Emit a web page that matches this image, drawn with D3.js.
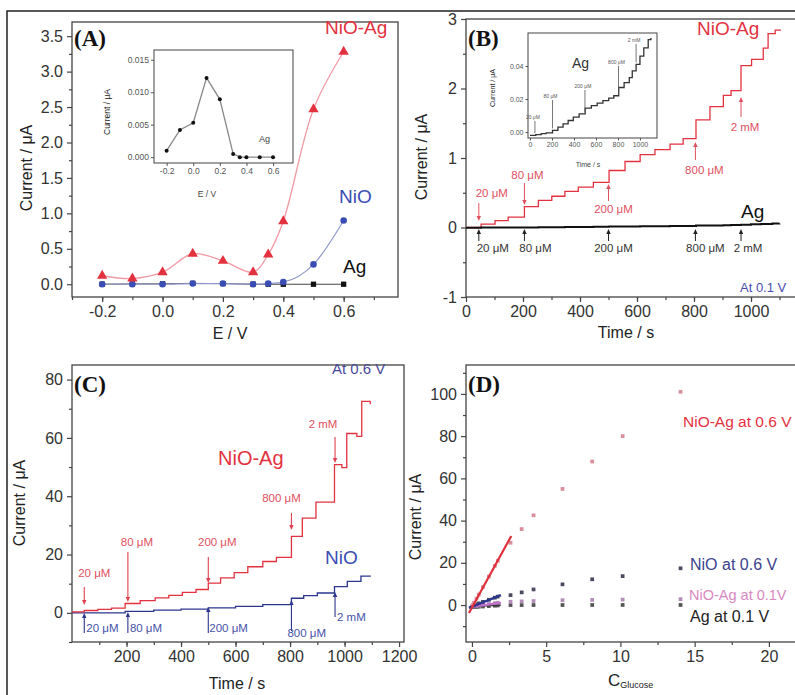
<!DOCTYPE html>
<html>
<head>
<meta charset="utf-8">
<script src="https://cdn.jsdelivr.net/npm/d3@7"></script>
<style>
  body { margin: 0; background: #fff; }
  svg { display: block; font-family: "Liberation Sans", Arial, sans-serif; }
</style>
</head>
<body>
<svg id="fig" width="795" height="695"></svg>
<script>
// (A) current vs potential
const aE = [-0.2, -0.1, 0.0, 0.1, 0.2, 0.3, 0.35, 0.4, 0.5, 0.6];
const aNiOAg = [0.12, 0.08, 0.17, 0.43, 0.33, 0.17, 0.42, 0.89, 2.47, 3.28];
const aNiO = [0.0, 0.0, 0.0, 0.01, 0.01, 0.0, 0.01, 0.03, 0.28, 0.90];
const aAg = [0.001, 0.0042, 0.0053, 0.0122, 0.0089, 0.0005, 0.0, 0.0, 0.0, 0.0];

// glucose additions (shared by B and C)
const addTimes = [45, 205, 500, 805, 965];
const addLabels = ["20 μM", "80 μM", "200 μM", "800 μM", "2 mM"];

// (B) amperometry at 0.1 V
const bTime = [0, 53, 102, 148, 205, 254, 301, 347, 394, 447, 502, 558, 611, 663, 716, 762, 807, 856, 903, 930, 965, 1002, 1043, 1060, 1085, 1105];
const bNiOAg = [0.0, 0.05, 0.10, 0.15, 0.30, 0.39, 0.45, 0.52, 0.58, 0.65, 0.82, 0.95, 1.05, 1.12, 1.20, 1.28, 1.55, 1.74, 1.90, 1.97, 2.33, 2.42, 2.58, 2.79, 2.84, 2.84];
const agTime = [0, 53, 102, 148, 205, 254, 301, 347, 394, 447, 502, 558, 611, 663, 716, 762, 807, 856, 903, 930, 965, 1000, 1035, 1075, 1100];
const agCur = [-0.002, -0.0015, -0.001, -0.0005, 0.001, 0.003, 0.005, 0.007, 0.009, 0.011, 0.0145, 0.016, 0.0175, 0.019, 0.0205, 0.022, 0.027, 0.030, 0.033, 0.037, 0.041, 0.046, 0.051, 0.056, 0.057];

// (C) amperometry at 0.6 V
const cTime = [0, 45, 95, 145, 195, 250, 305, 355, 405, 455, 500, 545, 595, 645, 700, 750, 805, 845, 895, 963, 990, 1008, 1045, 1063, 1094];
const cNiOAg = [0.3, 0.8, 1.2, 1.6, 3.2, 4.2, 5.1, 6.0, 7.0, 8.0, 10.2, 12.0, 13.8, 15.8, 17.6, 19.0, 26.2, 32.5, 38.0, 50.8, 49.8, 61.5, 60.5, 72.5, 71.5];
const cNiOTime = [0, 195, 300, 400, 500, 600, 700, 805, 850, 900, 963, 1010, 1060, 1094];
const cNiO = [0.0, 0.5, 0.9, 1.3, 1.7, 2.2, 2.8, 5.0, 5.9, 6.8, 9.0, 10.8, 12.6, 12.4];

// (D) calibration
const dConc = [0.02, 0.06, 0.14, 0.30, 0.46, 0.74, 1.14, 1.54, 1.74, 2.6, 3.35, 4.15, 6.1, 8.1, 10.15, 14.05];
const dNiOAg06 = [-0.5, 0.0, 1.0, 3.0, 5.0, 8.5, 13.5, 18.5, 21.0, 29.5, 36.0, 42.5, 55.0, 68.0, 80.0, 101.0];
const dNiO06 = [-0.8, -0.6, -0.3, 0.3, 0.8, 1.5, 2.5, 3.5, 4.0, 4.7, 6.0, 7.4, 9.8, 12.2, 13.7, 17.4];
const dNiOAg01 = [-0.9, -0.8, -0.6, -0.4, -0.2, 0.1, 0.5, 0.9, 1.1, 1.55, 1.74, 1.90, 2.3, 2.45, 2.6, 2.8];
const dAg01 = [-1.0, -1.0, -0.9, -0.9, -0.8, -0.7, -0.5, -0.3, -0.2, 0.0, 0.0, 0.01, 0.02, 0.03, 0.04, 0.05];
const fitSlope = [12.8, 2.8, 0.95, 0.4];
const fitIntercept = [-1.2, -0.8, -0.8, -0.8];
const fitEnd = [2.65, 1.95, 1.95, 1.95];

const svg = d3.select("#fig");
const red = "#e3323f", pink = "#f29aa3", blue = "#3a4db5", navy = "#2c368e";
const f1 = d => d3.format(".1f")(d).replace("\u2212", "-");
const fint = d => d3.format("d")(d).replace("\u2212", "-");

// outer frame
svg.append("rect").attr("x", 7).attr("y", 11).attr("width", 830).attr("height", 720)
  .attr("fill", "none").attr("stroke", "#222").attr("stroke-width", 1.5);

function panel(b, xd, yd) {
  const g = svg.append("g");
  const x = d3.scaleLinear().domain(xd).range([b.x0, b.x1]);
  const y = d3.scaleLinear().domain(yd).range([b.y1, b.y0]);
  return { g, x, y, b };
}

function axes(p, o) {
  const { g, x, y, b } = p;
  const fs = o.fs || 16, big = o.big || 5, small = o.small || 3, sw = o.sw || 1.2;
  const put = (gen, at, vals, size, fmt) => {
    const a = g.append("g").attr("transform", at)
      .call(gen.tickValues(vals).tickSize(size).tickSizeOuter(0).tickPadding(o.pad || 4).tickFormat(fmt))
      .attr("font-size", fs).attr("font-family", null);
    a.select(".domain").remove();
    a.selectAll("line").attr("stroke", "#444").attr("stroke-width", sw);
    a.selectAll("text").attr("fill", "#333");
  };
  put(d3.axisBottom(x), `translate(0,${b.y1})`, o.xm, small, () => "");
  put(d3.axisBottom(x), `translate(0,${b.y1})`, o.xt, big, o.xf);
  put(d3.axisLeft(y), `translate(${b.x0},0)`, o.ym, small, () => "");
  put(d3.axisLeft(y), `translate(${b.x0},0)`, o.yt, big, o.yf);
  g.append("rect").attr("x", b.x0).attr("y", b.y0)
    .attr("width", b.x1 - b.x0).attr("height", b.y1 - b.y0)
    .attr("fill", "none").attr("stroke", "#444").attr("stroke-width", sw + 0.1);
}

function text(g, x, y, s, o = {}) {
  return g.append("text").attr("x", x).attr("y", y).text(s)
    .attr("font-size", o.fs || 16).attr("fill", o.c || "#222")
    .attr("text-anchor", o.anchor || "start")
    .attr("font-family", o.ff || null).attr("font-weight", o.fw || null);
}

function ytitle(g, x, y, s, fs) {
  g.append("text").attr("transform", `translate(${x},${y}) rotate(-90)`)
    .attr("text-anchor", "middle").attr("font-size", fs || 16).attr("fill", "#222").text(s);
}

function letter(g, x, y, s) {
  text(g, x, y, s, { fs: 23, fw: "bold", ff: "'Liberation Serif', 'DejaVu Serif', serif", c: "#111" });
}

function arrow(g, x, y0, y1, c, w) {
  const d = y1 > y0 ? 1 : -1;
  g.append("line").attr("x1", x).attr("x2", x).attr("y1", y0).attr("y2", y1 - d * 3)
    .attr("stroke", c).attr("stroke-width", w || 1);
  g.append("path").attr("d", `M${x - 2.2},${y1 - d * 5}L${x + 2.2},${y1 - d * 5}L${x},${y1}Z`).attr("fill", c);
}

function path(p, xs, ys, curve, c, w) {
  const line = d3.line().x((d, i) => p.x(xs[i])).y(d => p.y(d)).curve(curve);
  return p.g.append("path").datum(ys).attr("d", line)
    .attr("fill", "none").attr("stroke", c).attr("stroke-width", w);
}

/* ---------- (A) ---------- */
const A = panel({ x0: 72, x1: 398, y0: 22, y1: 297 }, [-0.3, 0.78], [-0.18, 3.7]);
axes(A, {
  xt: [-0.2, 0, 0.2, 0.4, 0.6], xm: d3.range(-0.3, 0.75, 0.1),
  yt: d3.range(0, 3.6, 0.5), ym: d3.range(0.25, 3.6, 0.5), xf: f1, yf: f1
});
path(A, aE, aAg, d3.curveLinear, "#444", 1);
A.g.selectAll(".ag").data(aAg).join("path")
  .attr("transform", (d, i) => `translate(${A.x(aE[i])},${A.y(d)})`)
  .attr("d", d3.symbol(d3.symbolSquare, 28)).attr("fill", "#111");
path(A, aE, aNiO, d3.curveMonotoneX, "#8f98c8", 1.2);
A.g.selectAll(".nio").data(aNiO).join("circle")
  .attr("cx", (d, i) => A.x(aE[i])).attr("cy", d => A.y(d)).attr("r", 3.3).attr("fill", blue);
path(A, aE, aNiOAg, d3.curveCatmullRom, pink, 1.3);
A.g.selectAll(".niag").data(aNiOAg).join("path")
  .attr("transform", (d, i) => `translate(${A.x(aE[i])},${A.y(d)})`)
  .attr("d", d3.symbol(d3.symbolTriangle, 46)).attr("fill", red);
text(A.g, 325, 34, "NiO-Ag", { fs: 19, c: red });
text(A.g, 339, 203, "NiO", { fs: 19, c: blue });
text(A.g, 343, 273, "Ag", { fs: 19, c: "#111" });
text(A.g, 230, 339, "E / V", { anchor: "middle" });
ytitle(A.g, 32, 168, "Current / μA");
letter(A.g, 74, 46, "(A)");

// inset of (A)
const Ai = panel({ x0: 154, x1: 293, y0: 50, y1: 163 }, [-0.295, 0.75], [-0.0009, 0.0165]);
axes(Ai, {
  xt: [-0.2, 0, 0.2, 0.4, 0.6], xm: [], yt: [0, 0.005, 0.01, 0.015], ym: [],
  xf: f1, yf: d => d3.format(".3f")(d), fs: 8.5, big: 3, pad: 2, sw: 0.9
});
Ai.g.selectAll(".tick text").attr("fill", "#555");
path(Ai, aE, aAg, d3.curveLinear, "#888", 1.3);
Ai.g.selectAll(".agi").data(aAg).join("circle")
  .attr("cx", (d, i) => Ai.x(aE[i])).attr("cy", d => Ai.y(d)).attr("r", 2).attr("fill", "#111");
text(Ai.g, 259, 142, "Ag", { fs: 9, c: "#444" });
text(Ai.g, 207, 197, "E / V", { fs: 8.5, c: "#444", anchor: "middle" });
ytitle(Ai.g, 110, 112, "Current / μA", 8.5);

/* ---------- (B) ---------- */
const B = panel({ x0: 466, x1: 806, y0: 19, y1: 297 }, [0, 1193], [-1, 3]);
axes(B, {
  xt: d3.range(0, 1001, 200), xm: d3.range(100, 1200, 100),
  yt: [-1, 0, 1, 2, 3], ym: [-0.5, 0.5, 1.5, 2.5], xf: fint, yf: fint
});
path(B, bTime, bNiOAg, d3.curveStepAfter, red, 1.3);
path(B, agTime, agCur, d3.curveStepAfter, "#111", 2);

// red arrows (NiO-Ag) and black arrows (Ag)
const bRed = [
  { y0: 203, y1: 221, ly: 197, dx: 13 }, { y0: 183, y1: 205, ly: 179, dx: 3 },
  { y0: 201, y1: 184, ly: 213, dx: 5 }, { y0: 160, y1: 142, ly: 174, dx: 9 },
  { y0: 117, y1: 97, ly: 131, dx: 4 }
];
const bBlk = [14, 11, 5, 10, 7];
addTimes.forEach((t, i) => {
  const x = B.x(t), r = bRed[i];
  arrow(B.g, x, r.y0, r.y1, "#e0505e", 1);
  text(B.g, x + r.dx, r.ly, addLabels[i], { fs: 11.5, c: "#e0505e", anchor: "middle" });
  arrow(B.g, x, 241, 229, "#222", 1);
  text(B.g, x + bBlk[i], 252, addLabels[i], { fs: 11.5, c: "#333", anchor: "middle" });
});
text(B.g, 697, 35, "NiO-Ag", { fs: 19, c: red });
text(B.g, 741, 218, "Ag", { fs: 19, c: "#111" });
text(B.g, 740, 292, "At 0.1 V", { fs: 13, c: "#4a4ab0" });
text(B.g, 626, 338, "Time / s", { anchor: "middle" });
ytitle(B.g, 427, 157, "Current / μA");
letter(B.g, 468, 46, "(B)");

// inset of (B)
const Bi = panel({ x0: 528, x1: 657, y0: 33, y1: 138 }, [-18, 1155], [-0.0036, 0.06]);
axes(Bi, {
  xt: d3.range(0, 1001, 200), xm: [], yt: [0, 0.02, 0.04], ym: [],
  xf: fint, yf: d => d3.format(".2f")(d), fs: 7, big: 2.5, pad: 2, sw: 0.9
});
Bi.g.selectAll(".tick text").attr("fill", "#555");
path(Bi, agTime, agCur, d3.curveStepAfter, "#333", 1.3);
const biLab = [{ y0: 121, ly: 119 }, { y0: 100, ly: 98 }, { y0: 90, ly: 88 }, { y0: 66, ly: 64 }, { y0: 44, ly: 42 }];
addTimes.forEach((t, i) => {
  const x = Bi.x(t), cy = Bi.y(agCur[d3.bisectRight(agTime, t) - 1]) - 2;
  Bi.g.append("line").attr("x1", x).attr("x2", x).attr("y1", biLab[i].y0).attr("y2", cy)
    .attr("stroke", "#555").attr("stroke-width", 0.8);
  text(Bi.g, x - 2, biLab[i].ly, addLabels[i], { fs: 5, c: "#555", anchor: "middle" });
});
text(Bi.g, 572, 68, "Ag", { fs: 14, c: "#333" });
text(Bi.g, 588, 167, "Time / s", { fs: 7, c: "#444", anchor: "middle" });
ytitle(Bi.g, 495, 88, "Current / μA", 7);

/* ---------- (C) ---------- */
const C = panel({ x0: 72, x1: 404, y0: 365, y1: 642 }, [0, 1218], [-10, 85]);
axes(C, {
  xt: d3.range(200, 1201, 200), xm: d3.range(100, 1200, 100),
  yt: d3.range(0, 81, 20), ym: [-10, 10, 30, 50, 70], xf: fint, yf: fint
});
path(C, cNiOTime, cNiO, d3.curveStepAfter, navy, 1.3);
path(C, cTime, cNiOAg, d3.curveStepAfter, red, 1.3);
const cRed = [
  { y0: 587, y1: 605, ly: 577, dx: 10 }, { y0: 552, y1: 602, ly: 546, dx: 9 },
  { y0: 557, y1: 583, ly: 546, dx: 9 }, { y0: 513, y1: 530, ly: 502, dx: -10 },
  { y0: 437, y1: 463, ly: 428, dx: -12 }
];
const cBlue = [
  { y0: 633, y1: 613, lx: 2, ly: 632 }, { y0: 633, y1: 612, lx: 2, ly: 632 },
  { y0: 633, y1: 607, lx: 1, ly: 632 }, { y0: 631, y1: 600, lx: -4, ly: 637 },
  { y0: 617, y1: 592, lx: 2, ly: 621 }
];
addTimes.forEach((t, i) => {
  const x = C.x(t), r = cRed[i], b = cBlue[i];
  arrow(C.g, x, r.y0, r.y1, "#e0404e", 1.1);
  text(C.g, x + r.dx, r.ly, addLabels[i], { fs: 11.5, c: "#e0505e", anchor: "middle" });
  arrow(C.g, x, b.y0, b.y1, navy, 1.1);
  text(C.g, x + b.lx, b.ly, addLabels[i], { fs: 11.5, c: "#4652a8" });
});
text(C.g, 218, 465, "NiO-Ag", { fs: 20, c: red });
text(C.g, 325, 564, "NiO", { fs: 19, c: blue });
text(C.g, 332, 374, "At 0.6 V", { fs: 15, c: "#4a4a9a" });
text(C.g, 237, 689, "Time / s", { anchor: "middle" });
ytitle(C.g, 25, 503, "Current / μA");
letter(C.g, 74, 392, "(C)");

/* ---------- (D) ---------- */
const D = panel({ x0: 466, x1: 806, y0: 365, y1: 642 }, [-0.4, 22.5], [-17.5, 113.7]);
axes(D, {
  xt: [0, 5, 10, 15, 20], xm: d3.range(2.5, 22.5, 5),
  yt: d3.range(0, 101, 20), ym: d3.range(-10, 111, 20), xf: fint, yf: fint
});
const dSeries = [
  { v: dAg01, c: "#555" }, { v: dNiOAg01, c: "#b48cba" },
  { v: dNiO06, c: "#4a4a60" }, { v: dNiOAg06, c: "#d88f9c" }
];
dSeries.forEach(s => {
  D.g.selectAll(null).data(s.v).join("path")
    .attr("transform", (d, i) => `translate(${D.x(dConc[i])},${D.y(d)})`)
    .attr("d", d3.symbol(d3.symbolSquare, 14)).attr("fill", s.c);
});
const fitColors = ["#e0303c", navy, "#c070c8", "#333"];
const fitWidths = [2.2, 2.4, 2.2, 1.2];
[3, 2, 1, 0].forEach(i => {
  const xs = [-0.2, fitEnd[i]];
  path(D, xs, xs.map(c => fitIntercept[i] + fitSlope[i] * c), d3.curveLinear, fitColors[i], fitWidths[i]);
});
text(D.g, 683, 427, "NiO-Ag at 0.6 V", { fs: 15.5, c: red });
text(D.g, 690, 570, "NiO at 0.6 V", { fs: 16, c: "#3a4290" });
text(D.g, 689, 600, "NiO-Ag at 0.1V", { fs: 14.5, c: "#d888c0" });
text(D.g, 690, 622, "Ag at 0.1 V", { fs: 16, c: "#222" });
const cl = text(D.g, 608, 686, "C", { fs: 17 });
cl.append("tspan").attr("font-size", 9).attr("dy", 2).text("Glucose");
ytitle(D.g, 421, 517, "Current / μA");
letter(D.g, 468, 392, "(D)");
</script>
</body>
</html>
